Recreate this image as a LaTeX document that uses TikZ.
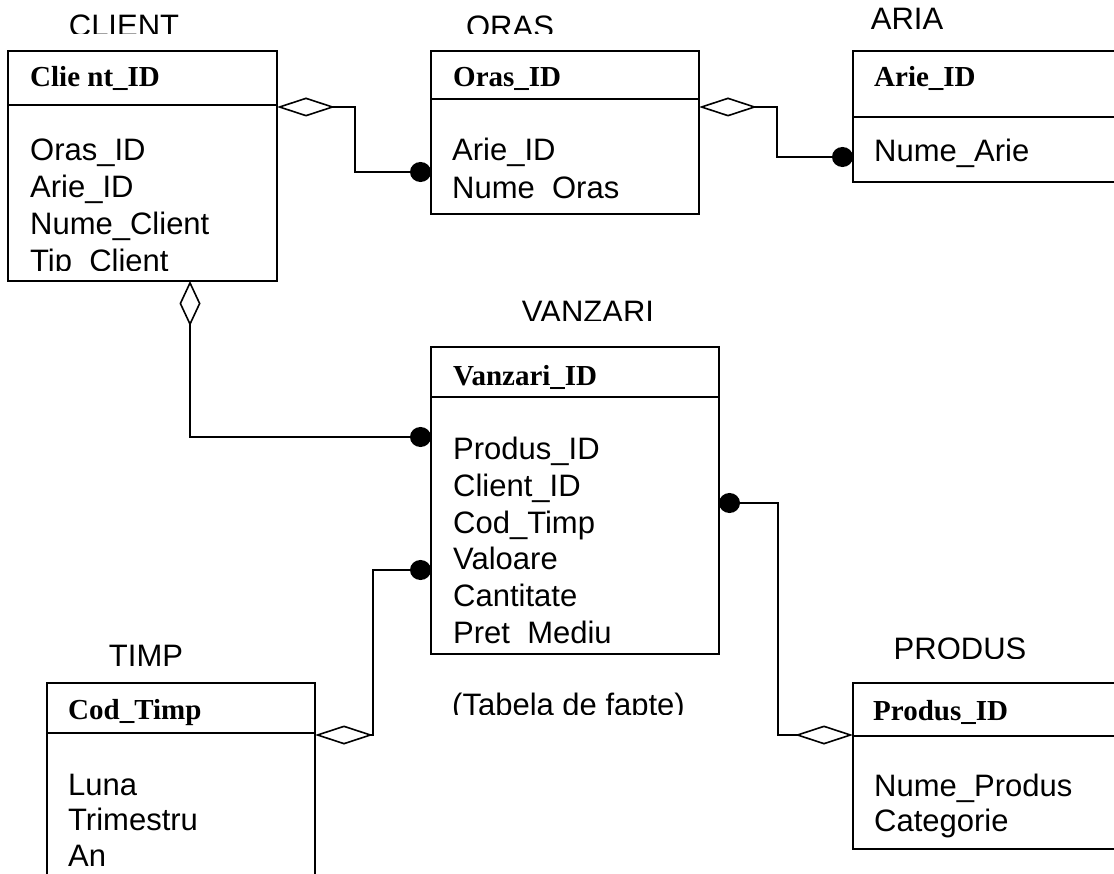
\documentclass[tikz,border=0pt]{standalone}
\usepackage{fontspec}
\setmainfont{Liberation Sans}
\newfontfamily\hdrfont{Liberation Serif}
\usetikzlibrary{arrows.meta}
\tikzset{
  box/.style={draw, line width=1.6pt, rectangle, inner sep=0pt, outer sep=0pt, anchor=north west},
  item/.style={anchor=base west, inner sep=0pt, font=\fontsize{31}{36}\selectfont},
  hdr/.style={anchor=base west, inner sep=0pt, font=\fontsize{29}{34}\hdrfont\bfseries},
  ttl/.style={anchor=base, inner sep=0pt, font=\fontsize{31}{36}\selectfont},
  sep/.style={line width=1.6pt},
  link/.style={line width=1.6pt, {Diamond[open,length=58pt,width=19pt]}-{Circle[length=21pt,width=20pt]}},
  linkv/.style={line width=1.6pt, {Diamond[open,length=45pt,width=21pt]}-{Circle[length=21pt,width=20pt]}}
}
\begin{document}
\begin{tikzpicture}[x=1pt,y=-1pt]
\fill[white] (0,0) rectangle (1114,874);
\useasboundingbox (0,0) rectangle (1114,874);

% ---------- boxes ----------
\node[box, minimum width=269pt, minimum height=230pt] (client) at (8,51) {};
\node[box, minimum width=268pt, minimum height=163pt] (oras) at (431,51) {};
\node[box, minimum width=280pt, minimum height=131pt] (aria) at (853,51) {};
\node[box, minimum width=288pt, minimum height=307pt] (vanzari) at (431,347) {};
\node[box, minimum width=268pt, minimum height=220pt] (timp) at (47,683) {};
\node[box, minimum width=280pt, minimum height=166pt] (produs) at (853,683) {};

% header separators
\draw[sep] (client.west |- 0,105) -- (client.east |- 0,105);
\draw[sep] (oras.west |- 0,99) -- (oras.east |- 0,99);
\draw[sep] (aria.west |- 0,117) -- (aria.east |- 0,117);
\draw[sep] (vanzari.west |- 0,397) -- (vanzari.east |- 0,397);
\draw[sep] (timp.west |- 0,733) -- (timp.east |- 0,733);
\draw[sep] (produs.west |- 0,736) -- (produs.east |- 0,736);

% ---------- titles ----------
\begin{scope}
  \clip (0,0) rectangle (1114,34);
  \node[ttl] (tclient) at (124,36.5) {CLIENT};
  \node[ttl] (toras) at (510,38) {ORAS};
\end{scope}
\node[ttl] (taria) at (907,29.5) {ARIA};
\begin{scope}
  \clip (0,280) rectangle (1114,321);
  \node[ttl] (tvanzari) at (588,322.5) {VANZARI};
\end{scope}
\node[ttl] (ttimp) at (146,666) {TIMP};
\begin{scope}
  \clip (700,600) rectangle (1114,658);
  \node[ttl] (tprodus) at (960,659.5) {PRODUS};
\end{scope}
\begin{scope}
  \clip (400,660) rectangle (760,714.5);
  \node[item] (fapte) at (452,715.5) {(Tabela de fapte)};
\end{scope}

% ---------- headers ----------
\node[hdr] (hclient) at (30,87) {Clie nt\_ID};
\node[hdr] (horas) at (453,87) {Oras\_ID};
\node[hdr] (haria) at (874,87) {Arie\_ID};
\node[hdr] (hvanzari) at (453,386) {Vanzari\_ID};
\node[hdr] (htimp) at (68,719) {Cod\_Timp};
\node[hdr] (hprodus) at (873,720) {Produs\_ID};

% ---------- attributes ----------
\begin{scope}
  \clip (10,110) rectangle (270,270.5);
  \node[item] (c1) at (30,161) {Oras\_ID};
  \node[item] (c2) at (30,197.7) {Arie\_ID};
  \node[item] (c3) at (30,234.4) {Nume\_Client};
  \node[item] (c4) at (30,271.3) {Tip\_Client};
\end{scope}
\begin{scope}
  \clip (433,102) rectangle (697,199.5);
  \node[item] (o1) at (452,161) {Arie\_ID};
  \node[item] (o2) at (452,198.3) {Nume\_Oras};
\end{scope}
\node[item] (a1) at (874,162) {Nume\_Arie};
\begin{scope}
  \clip (433,400) rectangle (717,645);
  \node[item] (v1) at (453,460) {Produs\_ID};
  \node[item] (v2) at (453,496.5) {Client\_ID};
  \node[item] (v3) at (453,533) {Cod\_Timp};
  \node[item] (v4) at (453,569.5) {Valoare};
  \node[item] (v5) at (453,606) {Cantitate};
  \node[item] (v6) at (453,643) {Pret\_Mediu};
\end{scope}
\node[item] (t1) at (68,795) {Luna};
\node[item] (t2) at (68,830.5) {Trimestru};
\node[item] (t3) at (68,866) {An};
\node[item] (p1) at (874,796) {Nume\_Produs};
\node[item] (p2) at (874,831.5) {Categorie};

% ---------- connectors ----------
\draw[link] (client.east |- 0,107) -- (355,107) |- (oras.west |- 0,172);
\draw[link] (oras.east |- 0,107) -- (777,107) |- (aria.west |- 0,157);
\draw[linkv] (client.south -| 190,0) |- (vanzari.west |- 0,437);
\draw[link] (timp.east |- 0,735) -- (373,735) |- (vanzari.west |- 0,570);
\draw[link] (produs.west |- 0,735) -- (778,735) |- (vanzari.east |- 0,503);
\end{tikzpicture}
\end{document}
